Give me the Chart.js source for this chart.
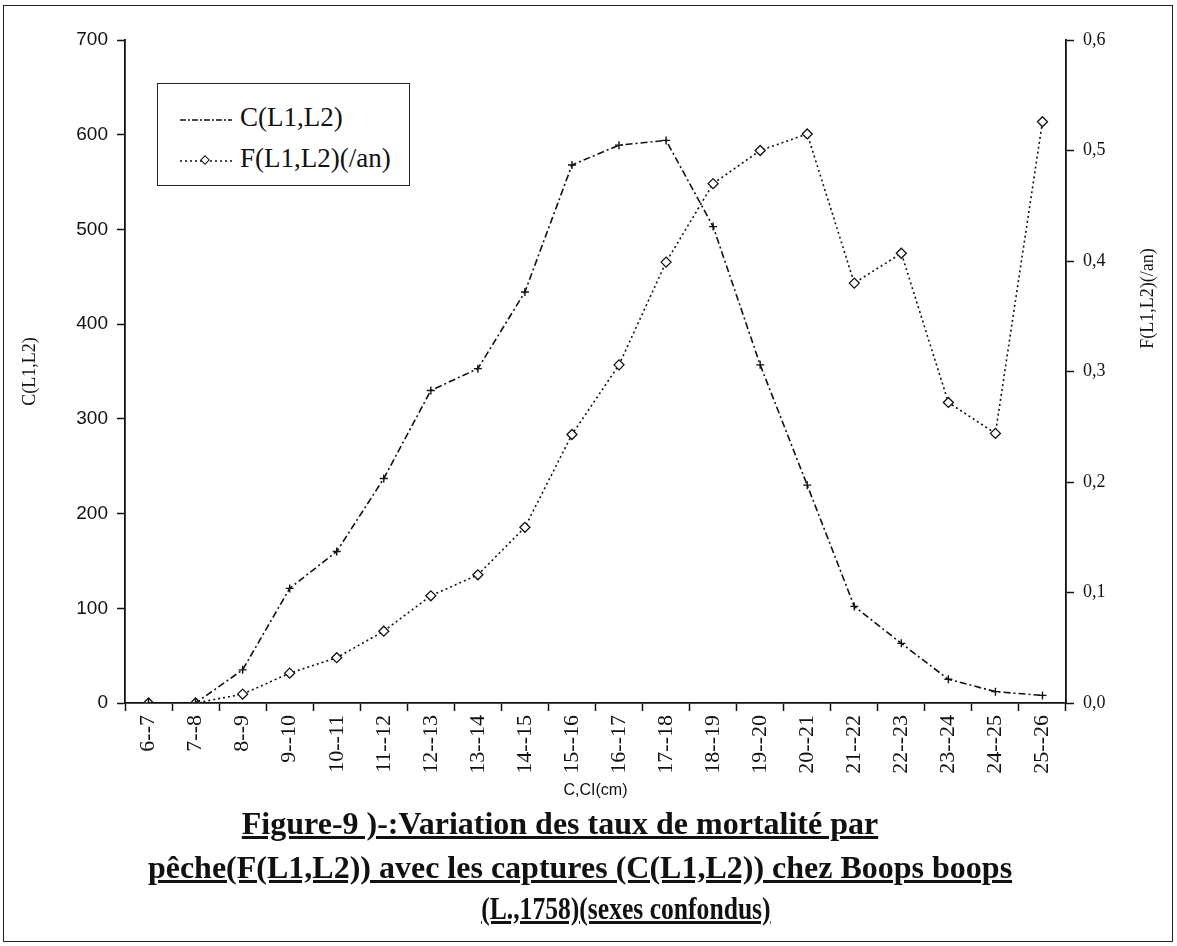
<!DOCTYPE html>
<html lang="fr">
<head>
<meta charset="utf-8">
<script src="https://cdn.jsdelivr.net/npm/chart.js@4.4.1/dist/chart.umd.min.js"></script>
<style>
    html, body { margin: 0; padding: 0; background: #fff; }
    #page { position: relative; width: 1177px; height: 946px; overflow: hidden; background: #fff; }
    #frame { position: absolute; left: 3px; top: 5px; width: 1170px; height: 937px; border: 1.5px solid #222; box-sizing: border-box; }
    #chartCanvas { position: absolute; left: 0; top: 0; }
    #legend { position: absolute; left: 157px; top: 83px; width: 253px; height: 103px; border: 1.5px solid #222; box-sizing: border-box; background: #fff;
              font-family: "Liberation Serif", "DejaVu Serif", serif; font-size: 27px; color: #111; }
    #legend .row { position: absolute; left: 22px; height: 34px; line-height: 34px; white-space: nowrap; }
    #legend svg { vertical-align: middle; margin-right: 8px; }
    .caption { position: absolute; width: 1200px; height: 40px; line-height: 40px; text-align: center; white-space: nowrap;
               font-family: "Liberation Serif", "DejaVu Serif", serif; font-weight: bold; font-size: 32px; color: #111; }
    .caption span { display: inline-block; text-decoration: underline; }
</style>
</head>
<body>
<div id="page">
    <canvas id="chartCanvas" width="1177" height="806"></canvas>
    <div id="legend">
        <div class="row" style="top:16px"><svg width="52" height="10"><line x1="0" y1="5" x2="52" y2="5" stroke="#111" stroke-width="1.5" stroke-dasharray="6,2,2,2"/></svg>C(L1,L2)</div>
        <div class="row" style="top:57px"><svg width="52" height="12"><line x1="0" y1="6" x2="52" y2="6" stroke="#111" stroke-width="1.5" stroke-dasharray="2,3"/><rect x="22" y="2" width="6" height="6" transform="rotate(45 25 5)" fill="#fff" stroke="#111" stroke-width="1"/></svg>F(L1,L2)(/an)</div>
    </div>
    <div class="caption" style="left:-40px; top:803px"><span>Figure-9 )-:Variation des taux de mortalité par</span></div>
    <div class="caption" style="left:-20px; top:847px"><span>pêche(F(L1,L2)) avec les captures (C(L1,L2)) chez Boops boops</span></div>
    <div class="caption" style="left:26px; top:888px"><span style="transform: scaleX(0.8)">(L.,1758)(sexes confondus)</span></div>
    <div id="frame"></div>
</div>
<script>
// classes de taille (cm)
var categories = ['6--7', '7--8', '8--9', '9--10', '10--11', '11--12', '12--13', '13--14', '14--15', '15--16',
    '16--17', '17--18', '18--19', '19--20', '20--21', '21--22', '22--23', '23--24', '24--25', '25--26'];

// captures C(L1,L2)
var captures = [0, 0, 35, 121, 160, 237, 330, 353, 434, 568, 589, 594, 503, 357, 230, 102, 63, 25, 12, 8];

// mortalite par peche F(L1,L2) (/an)
var mortalite = [0, 0, 0.008, 0.027, 0.041, 0.065, 0.097, 0.116, 0.159, 0.243, 0.306, 0.399, 0.470, 0.500, 0.515,
    0.380, 0.407, 0.272, 0.244, 0.526];

var leftAxisMax = 700;
var leftAxisStep = 100;
var rightAxisMax = 0.6;
var rightAxisStep = 0.1;
var rightTitle = 'F(L1,L2)(/an)';

var ink = '#111';
var serif = '"Liberation Serif", "DejaVu Serif", serif';
var sans = '"Liberation Sans", Arial, sans-serif';

// right axis title reads bottom to top like the left one
var rightTitlePlugin = {
    id: 'rightTitle',
    afterDraw: function (chart) {
        var c = chart.ctx;
        var area = chart.chartArea;
        var scale = chart.scales.y1;
        c.save();
        c.translate(scale.right - 29, area.top + (area.bottom - area.top) * 0.39);
        c.rotate(-Math.PI / 2);
        c.font = '18px ' + serif;
        c.fillStyle = ink;
        c.textAlign = 'center';
        c.textBaseline = 'middle';
        c.fillText(rightTitle, 0, 0);
        c.restore();
    }
};

var ctx = document.getElementById('chartCanvas');
var chart = new Chart(ctx, {
    type: 'line',
    data: {
        labels: categories,
        datasets: [
            {
                label: 'C(L1,L2)',
                data: captures,
                yAxisID: 'y',
                borderColor: ink,
                borderWidth: 1.6,
                borderDash: [7, 3, 2, 3],
                pointStyle: 'cross',
                pointRadius: 4,
                pointBorderWidth: 1.4,
                pointBorderColor: ink,
                tension: 0,
                fill: false
            },
            {
                label: 'F(L1,L2)(/an)',
                data: mortalite,
                yAxisID: 'y1',
                borderColor: ink,
                borderWidth: 1.6,
                borderDash: [2, 3],
                pointStyle: 'rectRot',
                pointRadius: 5,
                pointBorderWidth: 1.3,
                pointBorderColor: ink,
                pointBackgroundColor: '#fff',
                tension: 0,
                fill: false
            }
        ]
    },
    options: {
        responsive: false,
        animation: false,
        layout: { padding: { top: 40, left: 0, right: 0, bottom: 0 } },
        plugins: {
            legend: { display: false },
            tooltip: { enabled: false }
        },
        scales: {
            x: {
                type: 'category',
                offset: true,
                grid: { offset: true, drawOnChartArea: false, tickLength: 8, tickColor: ink, tickWidth: 1.5 },
                border: { color: ink, width: 1.8 },
                ticks: { minRotation: 90, maxRotation: 90, autoSkip: false, color: ink, padding: 4,
                         font: { family: serif, size: 22 } },
                title: { display: true, text: 'C,CI(cm)', color: ink, font: { family: sans, size: 16 },
                         padding: { top: 0, bottom: 6 } },
                afterFit: function (s) { s.height = 103; }
            },
            y: {
                position: 'left',
                min: 0,
                max: leftAxisMax,
                grid: { drawOnChartArea: false, tickLength: 8, tickColor: ink, tickWidth: 1.5 },
                border: { color: ink, width: 1.8 },
                ticks: { stepSize: leftAxisStep, color: ink, padding: 9, font: { family: sans, size: 19 } },
                title: { display: true, text: 'C(L1,L2)', color: ink, font: { family: serif, size: 18 },
                         padding: { top: 19, bottom: 0 } },
                afterFit: function (s) { s.width = 125; }
            },
            y1: {
                position: 'right',
                min: 0,
                max: rightAxisMax,
                grid: { drawOnChartArea: false, tickLength: 8, tickColor: ink, tickWidth: 1.5 },
                border: { color: ink, width: 1.8 },
                ticks: {
                    stepSize: rightAxisStep, color: ink, padding: 9, font: { family: serif, size: 18 },
                    callback: function (v) { return v.toFixed(1).replace('.', ','); }
                },
                afterFit: function (s) { s.width = 111; }
            }
        }
    },
    plugins: [rightTitlePlugin]
});
</script>
</body>
</html>
